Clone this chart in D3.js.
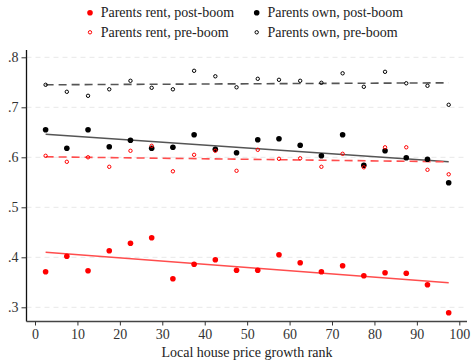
<!DOCTYPE html>
<html><head><meta charset="utf-8">
<script src="https://cdn.jsdelivr.net/npm/d3@7"></script>
<style>body{margin:0;background:#fff}svg{display:block}</style>
</head><body>
<svg id="c" width="472" height="362"></svg>
<script>
const bins = [2.5,7.5,12.5,17.5,22.5,27.5,32.5,37.5,42.5,47.5,52.5,57.5,62.5,67.5,72.5,77.5,82.5,87.5,92.5,97.5];
const rentPost = [.371,.402,.373,.413,.428,.439,.357,.386,.395,.374,.374,.405,.389,.371,.383,.363,.369,.368,.345,.289];
const ownPost  = [.655,.618,.655,.621,.634,.618,.620,.645,.616,.609,.635,.637,.624,.603,.645,.584,.613,.599,.596,.549];
const rentPre  = [.603,.591,.600,.581,.613,.623,.572,.605,.613,.573,.615,.597,.598,.581,.607,.580,.620,.620,.575,.566];
const ownPre   = [.745,.731,.723,.736,.753,.739,.736,.773,.762,.740,.757,.755,.753,.749,.768,.741,.771,.748,.743,.705];
const fitX = [2.5, 97.5];
const fitRentPost = [.410, .349];
const fitOwnPost  = [.646, .591];
const fitRentPre  = [.601, .591];
const fitOwnPre   = [.745, .749];
const xTicks = [0,10,20,30,40,50,60,70,80,90,100];
const yTicks = [.3,.4,.5,.6,.7,.8];
const legendLabels = ["Parents rent, post-boom","Parents own, post-boom","Parents rent, pre-boom","Parents own, pre-boom"];

const svg = d3.select("#c");
const font = "'Liberation Serif','Times New Roman',serif";
const x = d3.scaleLinear().domain([0,100]).range([35,459.3]);
const y = d3.scaleLinear().domain([.3,.8]).range([307.3,57.3]);
const left = 26.5, bottom = 321.5, right = 467;

// gridlines
svg.append("g").selectAll("line").data(yTicks).join("line")
  .attr("x1",left).attr("x2",right).attr("y1",d=>y(d)).attr("y2",d=>y(d))
  .attr("stroke","#e8e8e8").attr("stroke-width",1).attr("stroke-dasharray","5,4");

// axes
const yAxis = svg.append("g").attr("transform",`translate(${left},0)`)
  .call(d3.axisLeft(y).tickValues(yTicks).tickSize(5).tickPadding(3).tickFormat(d=>d3.format(".1f")(d).replace(/^0/,"")));
yAxis.select(".domain").attr("d",`M0,50V${bottom}`);
const xAxis = svg.append("g").attr("transform",`translate(0,${bottom})`)
  .call(d3.axisBottom(x).tickValues(xTicks).tickSize(4).tickPadding(4));
xAxis.select(".domain").attr("d",`M${left},0H${right}`);
svg.selectAll(".tick text").attr("font-family",font).attr("font-size",14).attr("fill","#333");
svg.selectAll(".tick line").attr("stroke","#333");
yAxis.select(".domain").attr("stroke","#111").attr("stroke-width",1.3);
xAxis.select(".domain").attr("stroke","#444").attr("stroke-width",1.6);

svg.append("text").attr("x",247).attr("y",357).attr("text-anchor","middle")
  .attr("font-family",font).attr("font-size",14).attr("fill","#222").text("Local house price growth rank");

// fit lines
const line = d3.line().x(d=>x(d[0])).y(d=>y(d[1]));
const fits = [
  {v:fitRentPost,c:"#ff4d4d",dash:null},
  {v:fitOwnPost,c:"#555",dash:null},
  {v:fitRentPre,c:"#ff4d4d",dash:"8,5"},
  {v:fitOwnPre,c:"#555",dash:"8,5"}];
fits.forEach(f=>{
  svg.append("path").attr("d",line(fitX.map((xx,i)=>[xx,f.v[i]])))
    .attr("fill","none").attr("stroke",f.c).attr("stroke-width",1.6)
    .attr("stroke-dasharray",f.dash);
});

// points
function filled(data,col){
  svg.append("g").selectAll("circle").data(data).join("circle")
    .attr("cx",(d,i)=>x(bins[i])).attr("cy",d=>y(d)).attr("r",2.8).attr("fill",col);
}
function hollow(data,col){
  svg.append("g").selectAll("circle").data(data).join("circle")
    .attr("cx",(d,i)=>x(bins[i])).attr("cy",d=>y(d)).attr("r",1.7)
    .attr("fill","none").attr("stroke",col).attr("stroke-width",1);
}
filled(rentPost,"#ff0000");
filled(ownPost,"#000");
hollow(rentPre,"#ff0000");
hollow(ownPre,"#000");

// legend
const leg = [
  {x:90,y:12.7,t:legendLabels[0],c:"#ff0000",f:true},
  {x:256.7,y:12.7,t:legendLabels[1],c:"#000",f:true},
  {x:90,y:32.3,t:legendLabels[2],c:"#ff0000",f:false},
  {x:256.7,y:32.3,t:legendLabels[3],c:"#000",f:false}];
leg.forEach(l=>{
  const c = svg.append("circle").attr("cx",l.x).attr("cy",l.y);
  if(l.f) c.attr("r",2.8).attr("fill",l.c);
  else c.attr("r",1.7).attr("fill","none").attr("stroke",l.c).attr("stroke-width",1);
  svg.append("text").attr("x",l.x+10.7).attr("y",l.y+4.5).attr("font-family",font)
    .attr("font-size",14).attr("fill","#222").text(l.t);
});
</script>
</body></html>
